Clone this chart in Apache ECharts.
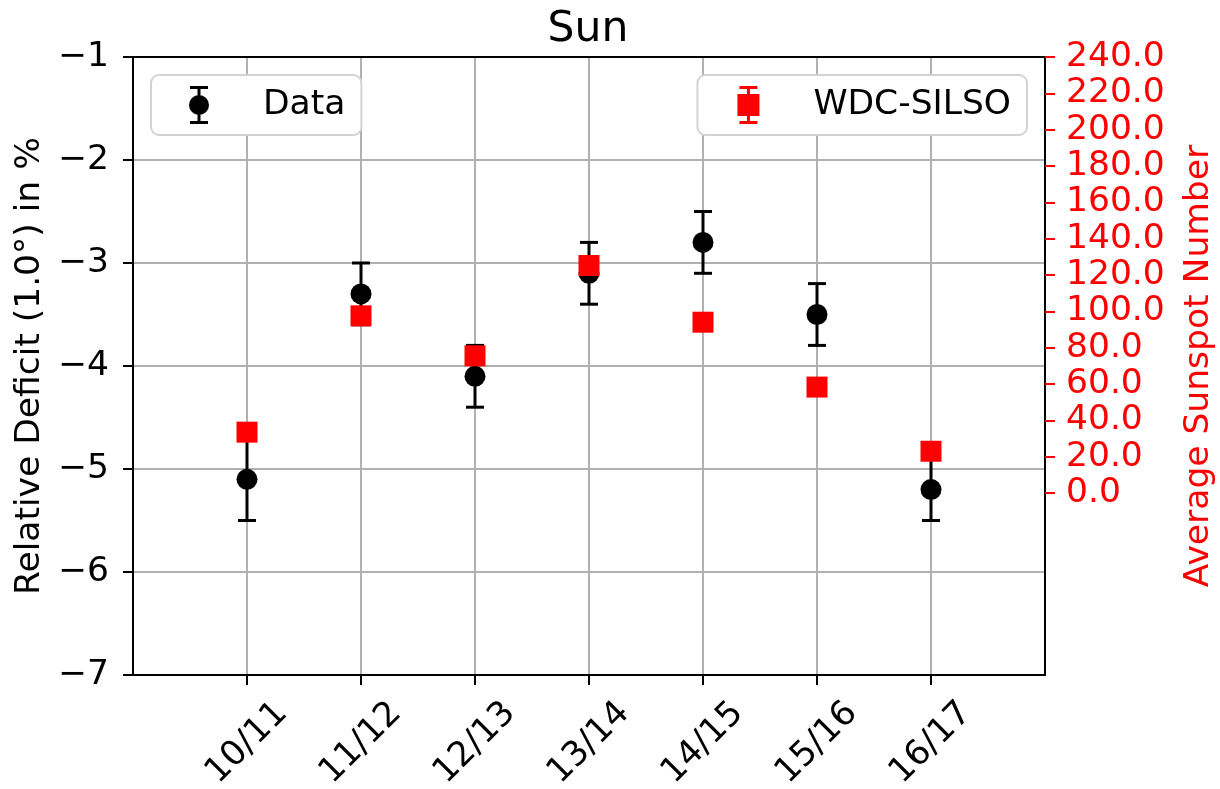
<!DOCTYPE html>
<html>
<head>
<meta charset="utf-8">
<script src="https://cdn.jsdelivr.net/npm/echarts@6/dist/echarts.min.js"></script>
<style>html,body{margin:0;padding:0;background:#fff}#c{width:1220px;height:789px}</style>
</head>
<body>
<div id="c"></div>
<script>
const seasons = ['10/11','11/12','12/13','13/14','14/15','15/16','16/17'];
const seasonPos = [1,2,3,4,5,6,7];
const deficit = [-5.1,-3.3,-4.1,-3.1,-2.8,-3.5,-5.2];
const deficitErr = [0.4,0.3,0.3,0.3,0.3,0.3,0.3];
const sunspots = [33.6,97.6,75.6,125.3,94.1,58.4,23.1];
const sunspotErr = [3,3,3,3,3,3,3];
const sunspotTicks = [0,20,40,60,80,100,120,140,160,180,200,220,240];

const FONT = 'DejaVu Sans';
const FS = 34.5;
const GRID = '#b0b0b0';

const dataPts = seasonPos.map((x,i)=>[x, deficit[i]]);
const dataErr = seasonPos.map((x,i)=>[x, deficit[i]-deficitErr[i], deficit[i]+deficitErr[i]]);
const ssPts = seasonPos.map((x,i)=>[x, sunspots[i]]);
const ssErr = seasonPos.map((x,i)=>[x, sunspots[i]-sunspotErr[i], sunspots[i]+sunspotErr[i]]);

function errRender(color){
  return function(params, api){
    const x = api.value(0);
    const lo = api.coord([x, api.value(1)]);
    const hi = api.coord([x, api.value(2)]);
    const hw = 9;
    const st = {stroke: color, lineWidth: 3};
    return {type:'group', children:[
      {type:'line', shape:{x1:lo[0],y1:lo[1],x2:hi[0],y2:hi[1]}, style:st},
      {type:'line', shape:{x1:lo[0]-hw,y1:lo[1],x2:lo[0]+hw,y2:lo[1]}, style:st},
      {type:'line', shape:{x1:hi[0]-hw,y1:hi[1],x2:hi[0]+hw,y2:hi[1]}, style:st}
    ]};
  };
}

const iconData = 'path://M-9,-19H9V-16H-9Z M-1.5,-19H1.5V19H-1.5Z M-9,16H9V19H-9Z M-10,0A10,10 0 1,1 10,0A10,10 0 1,1 -10,0Z';
const iconSS = 'path://M-9,-19H9V-16H-9Z M-1.5,-19H1.5V19H-1.5Z M-9,16H9V19H-9Z M-11,-11H11V11H-11Z';

const legendCommon = {
  top: 75, orient:'vertical',
  backgroundColor:'#fff', borderColor:'#d3d3d3', borderWidth:2, borderRadius:8,
  textStyle:{fontFamily:FONT, fontSize:FS, color:'#000', padding:[0,0,0,49]},
  selectedMode:false
};

const chart = echarts.init(document.getElementById('c'), null, {renderer:'canvas'});
chart.setOption({
  animation:false,
  backgroundColor:'#fff',
  title:{text:'Sun', left:583, textAlign:'center', top:3,
    textStyle:{fontFamily:FONT, fontSize:42.5, fontWeight:'normal', color:'#000'}},
  grid:{left:133, right:175, top:57, bottom:114, show:false, containLabel:false, outerBoundsMode:'none'},
  legend:[
    Object.assign({}, legendCommon, {left:151, padding:[11,16,11,38], itemWidth:20, itemHeight:38,
      data:[{name:'Data', icon:iconData}]}),
    Object.assign({}, legendCommon, {right:193, padding:[11,16,11,40], itemWidth:22, itemHeight:38,
      data:[{name:'WDC-SILSO', icon:iconSS}]})
  ],
  xAxis:[{
    type:'value', min:0, max:8, interval:1, position:'bottom',
    axisLine:{show:true, onZero:false, lineStyle:{color:'#000', width:2}},
    axisTick:{show:true, length:10, lineStyle:{color:'#000', width:2}, customValues:seasonPos},
    axisLabel:{customValues:seasonPos, formatter:v=>seasons[Math.round(v)-1]||'', rotate:45,
      align:'center', verticalAlign:'middle', margin:68,
      fontFamily:FONT, fontSize:FS, color:'#000'},
    splitLine:{show:true, lineStyle:{color:GRID, width:2}}
  },{
    type:'value', min:0, max:8, position:'top',
    axisLine:{show:true, onZero:false, lineStyle:{color:'#000', width:2}},
    axisTick:{show:false}, axisLabel:{show:false}, splitLine:{show:false}
  }],
  yAxis:[{
    type:'value', min:-7, max:-1, interval:1, position:'left',
    name:'Relative Deficit (1.0°) in %', nameLocation:'middle', nameGap:84, nameRotate:90,
    nameTextStyle:{fontFamily:FONT, fontSize:FS, color:'#000'},
    axisLine:{show:true, onZero:false, lineStyle:{color:'#000', width:2}},
    axisTick:{show:true, length:10, lineStyle:{color:'#000', width:2}},
    axisLabel:{formatter:v=>String(v).replace('-', '\u2212'), margin:24,
      fontFamily:FONT, fontSize:FS, color:'#000'},
    splitLine:{show:true, lineStyle:{color:GRID, width:2}}
  },{
    type:'value', min:-100, max:240, interval:20, position:'right',
    name:'Average Sunspot Number', nameLocation:'middle', nameGap:137, nameRotate:90,
    nameTextStyle:{fontFamily:FONT, fontSize:FS, color:'#ff0000'},
    axisLine:{show:true, onZero:false, lineStyle:{color:'#000', width:2}},
    axisTick:{show:true, length:10, lineStyle:{color:'#ff0000', width:2}, customValues:sunspotTicks},
    axisLabel:{customValues:sunspotTicks, formatter:v=>v.toFixed(1), margin:21,
      fontFamily:FONT, fontSize:FS, color:'#ff0000'},
    splitLine:{show:false}
  }],
  series:[
    {name:'Data err', type:'custom', xAxisIndex:0, yAxisIndex:0, renderItem:errRender('#000'),
      data:dataErr, z:2, silent:true},
    {name:'Data', type:'scatter', xAxisIndex:0, yAxisIndex:0, symbol:'circle', symbolSize:21,
      itemStyle:{color:'#000', opacity:1}, data:dataPts, z:3},
    {name:'WDC-SILSO err', type:'custom', xAxisIndex:0, yAxisIndex:1, renderItem:errRender('#ff0000'),
      data:ssErr, z:4, silent:true},
    {name:'WDC-SILSO', type:'scatter', xAxisIndex:0, yAxisIndex:1, symbol:'rect', symbolSize:21,
      itemStyle:{color:'#ff0000', opacity:1}, data:ssPts, z:5}
  ]
});
</script>
</body>
</html>
